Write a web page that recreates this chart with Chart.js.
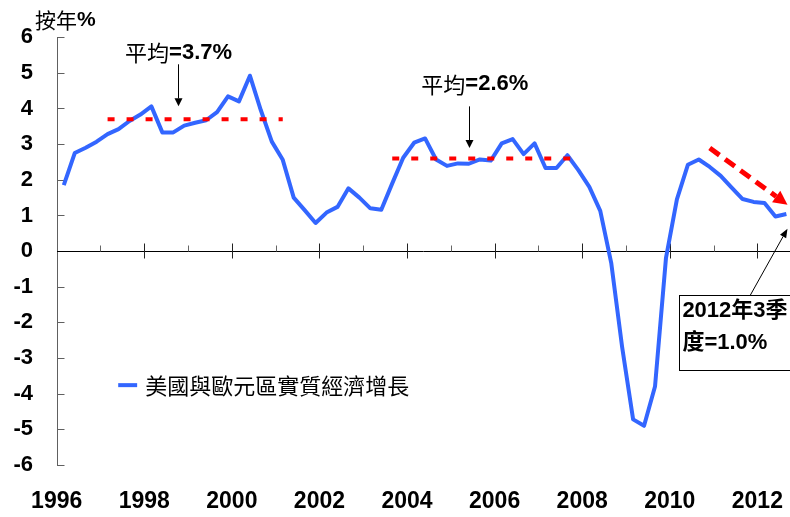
<!DOCTYPE html>
<html>
<head>
<meta charset="utf-8">
<script src="https://cdn.jsdelivr.net/npm/chart.js@4.4.0/dist/chart.umd.min.js"></script>
<style>
    html, body { margin: 0; padding: 0; background: #fff; overflow: hidden; }
    #wrap { width: 790px; height: 517px; position: relative; }
</style>
</head>
<body>
<div id="wrap"><canvas id="growthChart"></canvas></div>
<script>
// quarterly real GDP growth, yoy %, 1996 Q1 .. 2012 Q3
const firstYear = 1996;
const growth = [
    1.85, 2.75, 2.90, 3.07,   // 1996
    3.28, 3.42, 3.65, 3.83,   // 1997
    4.06, 3.33, 3.33, 3.52,   // 1998
    3.60, 3.67, 3.90, 4.34,   // 1999
    4.20, 4.92, 3.95, 3.07,   // 2000
    2.56, 1.50, 1.15, 0.79,   // 2001
    1.08, 1.24, 1.76, 1.50,   // 2002
    1.20, 1.16, 1.90, 2.62,   // 2003
    3.04, 3.16, 2.57, 2.39,   // 2004
    2.46, 2.45, 2.57, 2.54,   // 2005
    3.02, 3.14, 2.72, 3.02,   // 2006
    2.33, 2.33, 2.69, 2.27,   // 2007
    1.80, 1.13, -0.33, -2.70, // 2008
    -4.72, -4.90, -3.80, -0.20, // 2009
    1.45, 2.42, 2.57, 2.36,   // 2010
    2.11, 1.78, 1.46, 1.38,   // 2011
    1.35, 0.97, 1.04          // 2012
];
const seriesName = "美國與歐元區實質經濟增長";

// period averages: [first quarter index, last quarter index]
const avgEarly = 3.7;
const avgEarlySpan = [4, 20];
const avgLate = 2.6;
const avgLateSpan = [30, 47];

const yearLabels = ["1996", "1998", "2000", "2002", "2004", "2006", "2008", "2010", "2012"];
const yMin = -6, yMax = 6;

const quarters = growth.map((_, i) => `${firstYear + Math.floor(i / 4)}Q${i % 4 + 1}`);
const yearCount = Math.ceil(growth.length / 4);
const tickShift = -0.65; // year boundary relative to Q1 point

const cjk = "'Noto Sans CJK TC'";
const latin = "'Liberation Sans', Arial";

// annotation placement, in data units (quarter index, %)
const notes = {
    unit: { x: -2.62, y: 6.49 },
    avg1Text: { x: 5.6, y: 5.57 },
    avg1Arrow: { x: 10.45, from: 5.24, to: 4.06 },
    avg2Text: { x: 32.66, y: 4.68 },
    avg2Arrow: { x: 37.05, from: 4.06, to: 2.89 },
    trend: { x1: 59.0, y1: 2.89, x2: 66.1, y2: 1.30 },
    box: { x1: 56.17, y1: -1.24, x2: 67.5, y2: -3.34, line1: -1.69, line2: -2.58, textX: 56.5 },
    boxArrow: { x1: 62.7, y1: -1.24, x2: 66.1, y2: 0.63 },
    legend: { x1: 4.97, x2: 6.7, y: -3.76, textX: 7.43 }
};

function arrow(ctx, x1, y1, x2, y2, len, wid) {
    const ang = Math.atan2(y2 - y1, x2 - x1);
    const bx = x2 - len * Math.cos(ang), by = y2 - len * Math.sin(ang);
    ctx.beginPath();
    ctx.moveTo(x1, y1);
    ctx.lineTo(bx, by);
    ctx.stroke();
    ctx.setLineDash([]);
    ctx.beginPath();
    ctx.moveTo(x2, y2);
    ctx.lineTo(bx + wid / 2 * Math.sin(ang), by - wid / 2 * Math.cos(ang));
    ctx.lineTo(bx - wid / 2 * Math.sin(ang), by + wid / 2 * Math.cos(ang));
    ctx.closePath();
    ctx.fill();
}

function mixedText(ctx, x, y, parts) {
    let cx = x;
    parts.forEach(([txt, font]) => {
        ctx.font = font;
        ctx.fillText(txt, cx, y);
        cx += ctx.measureText(txt).width;
    });
}

const decorations = {
    id: "decorations",
    beforeDatasetsDraw(chart) {
        const { ctx, chartArea: a, scales: { x, y } } = chart;
        const y0 = Math.round(y.getPixelForValue(0)) + 0.5;
        const ax = Math.round(a.left) + 0.5;
        ctx.save();
        ctx.lineWidth = 1;

        // y axis with inner ticks
        ctx.strokeStyle = "#606060";
        ctx.beginPath();
        ctx.moveTo(ax, Math.round(y.getPixelForValue(yMax)));
        ctx.lineTo(ax, Math.round(y.getPixelForValue(yMin)) + 1);
        for (let v = yMin; v <= yMax; v++) {
            const p = Math.round(y.getPixelForValue(v)) + 0.5;
            ctx.moveTo(ax, p);
            ctx.lineTo(ax + 7, p);
        }
        ctx.stroke();

        // zero line with year ticks
        ctx.strokeStyle = "#000";
        ctx.beginPath();
        ctx.moveTo(a.left, y0);
        ctx.lineTo(a.right, y0);
        ctx.stroke();
        for (let k = 1; k < yearCount; k++) {
            const p = Math.round(x.getPixelForValue(4 * k + tickShift)) + 0.5;
            ctx.beginPath();
            if (k % 2 === 0) {
                ctx.strokeStyle = "#222";
                ctx.moveTo(p, y0 - 8);
                ctx.lineTo(p, y0 + 7);
            } else {
                ctx.strokeStyle = "#666";
                ctx.moveTo(p, y0 - 6);
                ctx.lineTo(p, y0);
            }
            ctx.stroke();
        }
        ctx.restore();
    },
    afterDraw(chart) {
        const { ctx, scales: { x, y } } = chart;
        const px = v => x.getPixelForValue(v);
        const py = v => y.getPixelForValue(v);
        ctx.save();
        ctx.fillStyle = "#000";
        ctx.strokeStyle = "#000";
        ctx.textBaseline = "middle";
        ctx.textAlign = "left";

        // unit
        mixedText(ctx, px(notes.unit.x), py(notes.unit.y), [["按年", `21px ${cjk}`], ["%", `bold 21px ${latin}`]]);

        // average labels and arrows
        mixedText(ctx, px(notes.avg1Text.x), py(notes.avg1Text.y),
            [["平均", `22px ${cjk}`], [`=${avgEarly.toFixed(1)}%`, `bold 22px ${latin}`]]);
        mixedText(ctx, px(notes.avg2Text.x), py(notes.avg2Text.y),
            [["平均", `22px ${cjk}`], [`=${avgLate.toFixed(1)}%`, `bold 22px ${latin}`]]);
        ctx.lineWidth = 1;
        const a1 = Math.round(px(notes.avg1Arrow.x)) + 0.5;
        arrow(ctx, a1, py(notes.avg1Arrow.from), a1, py(notes.avg1Arrow.to), 8, 8);
        const a2 = Math.round(px(notes.avg2Arrow.x)) + 0.5;
        arrow(ctx, a2, py(notes.avg2Arrow.from), a2, py(notes.avg2Arrow.to), 8, 8);

        // red trend arrow
        ctx.strokeStyle = "#ff0000";
        ctx.fillStyle = "#ff0000";
        ctx.lineWidth = 5;
        ctx.setLineDash([12, 7]);
        const t = notes.trend;
        arrow(ctx, px(t.x1), py(t.y1), px(t.x2), py(t.y2), 14, 14);

        // callout box for the last quarter
        const b = notes.box;
        ctx.setLineDash([]);
        ctx.lineWidth = 1;
        ctx.strokeStyle = "#000";
        ctx.fillStyle = "#fff";
        const bx1 = Math.round(px(b.x1)) + 0.5, by1 = Math.round(py(b.y1)) + 0.5;
        const bx2 = Math.round(px(b.x2)) + 0.5, by2 = Math.round(py(b.y2)) + 0.5;
        ctx.fillRect(bx1, by1, bx2 - bx1, by2 - by1);
        ctx.strokeRect(bx1, by1, bx2 - bx1, by2 - by1);
        ctx.fillStyle = "#000";
        const last = growth[growth.length - 1];
        const lastQ = (growth.length - 1) % 4 + 1;
        const lastYear = firstYear + Math.floor((growth.length - 1) / 4);
        ctx.font = `bold 22px ${latin}, ${cjk}`;
        ctx.fillText(`${lastYear}年${lastQ}季`, px(b.textX), py(b.line1));
        ctx.fillText(`度=${last.toFixed(1)}%`, px(b.textX), py(b.line2));
        const ba = notes.boxArrow;
        arrow(ctx, px(ba.x1), py(ba.y1), px(ba.x2), py(ba.y2), 9, 7);

        // legend
        const lg = notes.legend;
        ctx.strokeStyle = "#3366ff";
        ctx.lineWidth = 4;
        ctx.beginPath();
        ctx.moveTo(px(lg.x1), py(lg.y));
        ctx.lineTo(px(lg.x2), py(lg.y));
        ctx.stroke();
        ctx.font = `22px ${cjk}`;
        ctx.fillText(chart.data.datasets[0].label, px(lg.textX), py(lg.y));
        ctx.restore();
    }
};

new Chart(document.getElementById("growthChart"), {
    type: "line",
    data: {
        labels: quarters,
        datasets: [
            {
                label: seriesName,
                data: growth.map((v, i) => ({ x: i, y: v })),
                borderColor: "#3366ff",
                borderWidth: 4,
                borderJoinStyle: "round",
                pointRadius: 0,
                tension: 0,
                order: 2
            },
            {
                label: "avg1",
                data: avgEarlySpan.map(i => ({ x: i, y: avgEarly })),
                borderColor: "#ff0000",
                borderWidth: 4,
                borderDash: [7, 12],
                pointRadius: 0,
                order: 1
            },
            {
                label: "avg2",
                data: avgLateSpan.map(i => ({ x: i, y: avgLate })),
                borderColor: "#ff0000",
                borderWidth: 4,
                borderDash: [7, 12],
                pointRadius: 0,
                order: 1
            }
        ]
    },
    options: {
        responsive: true,
        maintainAspectRatio: false,
        animation: false,
        layout: { padding: { top: 36, right: 0, left: 0, bottom: 0 } },
        plugins: { legend: { display: false }, tooltip: { enabled: false } },
        scales: {
            x: {
                type: "linear",
                min: -0.62,
                max: 66.33,
                grid: { display: false },
                border: { display: false },
                afterBuildTicks: scale => {
                    scale.ticks = yearLabels.map((_, k) => ({ value: 8 * k + tickShift }));
                },
                afterFit: scale => {
                    scale.height = 52;
                    scale.paddingLeft = 0;
                    scale.paddingRight = 0;
                },
                ticks: {
                    autoSkip: false,
                    maxRotation: 0,
                    padding: 15,
                    color: "#000",
                    font: { family: "'Liberation Sans Narrow', 'Liberation Sans'", weight: "bold", size: 23 },
                    callback: v => yearLabels[Math.round((v - tickShift) / 8)]
                }
            },
            y: {
                min: yMin,
                max: yMax,
                grid: { display: false, drawTicks: false },
                border: { display: false },
                afterFit: scale => { scale.width = 57; },
                ticks: {
                    stepSize: 1,
                    padding: 24,
                    color: "#000",
                    font: { family: latin, weight: "bold", size: 22 }
                }
            }
        }
    },
    plugins: [decorations]
});
</script>
</body>
</html>
